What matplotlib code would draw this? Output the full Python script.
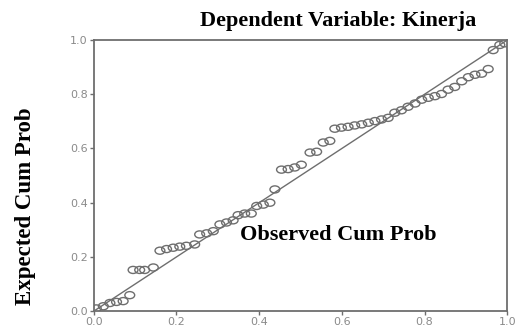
import matplotlib
matplotlib.use("Agg")
import matplotlib.pyplot as plt
from matplotlib.path import Path
from matplotlib.transforms import Affine2D

title = "Dependent Variable: Kinerja"
xlabel = "Observed Cum Prob"
ylabel = "Expected Cum Prob"
ticks = [0.0, 0.2, 0.4, 0.6, 0.8, 1.0]
tick_labels = ["0.0", "0.2", "0.4", "0.6", "0.8", "1.0"]

observed = [0.006, 0.023, 0.039, 0.055, 0.071, 0.087,
            0.095, 0.111, 0.123, 0.144,
            0.160, 0.176, 0.192, 0.208, 0.224, 0.244,
            0.256, 0.273, 0.289, 0.305, 0.321, 0.337, 0.349, 0.365, 0.381,
            0.394, 0.410, 0.426, 0.438,
            0.454, 0.470, 0.486, 0.502, 0.523, 0.539, 0.555, 0.571,
            0.583, 0.599, 0.615, 0.631, 0.648, 0.664, 0.680, 0.696, 0.712,
            0.728, 0.744, 0.760, 0.777, 0.793, 0.809, 0.825, 0.841, 0.857,
            0.873, 0.890, 0.906, 0.922, 0.938, 0.954,
            0.966, 0.982, 0.994]
expected = [0.010, 0.018, 0.030, 0.034, 0.037, 0.059,
            0.152, 0.152, 0.152, 0.161,
            0.223, 0.229, 0.234, 0.238, 0.241, 0.246,
            0.283, 0.287, 0.295, 0.320, 0.327, 0.335, 0.354, 0.360, 0.360,
            0.388, 0.393, 0.400, 0.449,
            0.522, 0.524, 0.530, 0.540, 0.585, 0.588, 0.622, 0.628,
            0.673, 0.677, 0.680, 0.685, 0.689, 0.695, 0.701, 0.707, 0.713,
            0.732, 0.741, 0.754, 0.766, 0.780, 0.787, 0.793, 0.801, 0.817,
            0.827, 0.848, 0.863, 0.872, 0.876, 0.893,
            0.963, 0.982, 0.988]
ref_line = [0.0, 1.0]

gray = "#6e6e6e"
ellipse = Path.unit_circle().transformed(Affine2D().scale(1.0, 0.72))

fig = plt.figure(figsize=(5.24, 3.31), dpi=100)
ax = fig.add_axes([0.179, 0.06, 0.789, 0.819])
ax.plot(ref_line, ref_line, color=gray, lw=1.0, zorder=2)
ax.scatter(observed, expected, s=50, marker=ellipse, facecolors="none",
           edgecolors=gray, linewidths=1.0, zorder=3)
ax.set_xlim(0, 1)
ax.set_ylim(0, 1)
ax.set_xticks(ticks)
ax.set_xticklabels(tick_labels)
ax.set_yticks(ticks)
ax.set_yticklabels(tick_labels)
ax.tick_params(colors=gray, labelcolor="#8a8a8a", labelsize=8, length=3,
               width=1, pad=1.5)
for s in ax.spines.values():
    s.set_color(gray)
    s.set_linewidth(1.3)

serif = ["Liberation Serif", "DejaVu Serif"]
fig.text(0.645, 0.937, title, ha="center", va="center", fontsize=16,
         fontweight="bold", family=serif)
fig.text(0.645, 0.29, xlabel, ha="center", va="center", fontsize=16,
         fontweight="bold", family=serif)
fig.text(0.048, 0.378, ylabel, ha="center", va="center", rotation=90,
         fontsize=16.5, fontweight="bold", family=serif)

fig.savefig("out.png", dpi=100)
